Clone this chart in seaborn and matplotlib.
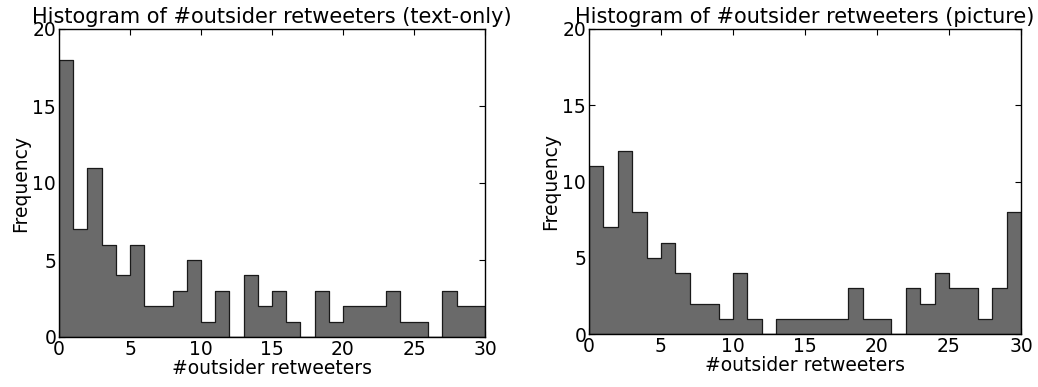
import numpy as np
import pandas as pd
import matplotlib
matplotlib.use("Agg")
import matplotlib.pyplot as plt
import seaborn as sns

# Bin lower edges (unit-width bins from 0 to 30)
bin_starts = list(range(30))

# Counts per bin for text-only tweets
text_only_counts = [18, 7, 11, 6, 4, 6, 2, 2, 3, 5,
                    1, 3, 0, 4, 2, 3, 1, 0, 3, 1,
                    2, 2, 2, 3, 1, 1, 0, 3, 2, 2]

# Counts per bin for picture tweets
picture_counts = [11, 7, 12, 8, 5, 6, 4, 2, 2, 1,
                  4, 1, 0, 1, 1, 1, 1, 1, 3, 1,
                  1, 0, 3, 2, 4, 3, 3, 1, 3, 8]

titles = ["Histogram of #outsider retweeters (text-only)",
          "Histogram of #outsider retweeters (picture)"]
x_label = "#outsider retweeters"
y_label = "Frequency"
x_ticks = [0, 5, 10, 15, 20, 25, 30]
y_ticks = [0, 5, 10, 15, 20]

sns.set_style("white")
plt.rcParams["font.family"] = ["DejaVu Sans"]
plt.rcParams["text.color"] = "black"
plt.rcParams["axes.labelcolor"] = "black"

fig = plt.figure(figsize=(10.38, 3.87), dpi=100)
ax_left = fig.add_axes([59 / 1038, 1 - 337 / 387, (485 - 59) / 1038, (337 - 29) / 387])
ax_right = fig.add_axes([589 / 1038, 1 - 334 / 387, (1021 - 589) / 1038, (334 - 29) / 387])

for ax, counts, title in zip([ax_left, ax_right], [text_only_counts, picture_counts], titles):
    df = pd.DataFrame({"x": np.array(bin_starts, dtype=float) + 0.5,
                       "n": np.array(counts, dtype=float)})
    sns.histplot(data=df, x="x", weights="n", binwidth=1, binrange=(0, 30), ax=ax,
                 color="#6a6a6a", edgecolor="#1a1a1a", linewidth=0.9, alpha=1.0,
                 element="step")
    ax.set_xlim(0, 30)
    ax.set_ylim(0, 20)
    ax.set_xticks(x_ticks)
    ax.set_yticks(y_ticks)
    ax.tick_params(direction="in", length=4, width=0.8, top=True, right=True,
                   bottom=True, left=True, labelsize=13.5, pad=2, colors="black")
    ax.set_xlabel(x_label, fontsize=13.5, labelpad=0)
    ax.set_ylabel(y_label, fontsize=13.5, labelpad=2)
    ax.set_title(title, fontsize=15, pad=4, color="black")
    for s in ax.spines.values():
        s.set_visible(True)
        s.set_color("black")
        s.set_linewidth(1.0)

fig.savefig("out.png", dpi=100)
